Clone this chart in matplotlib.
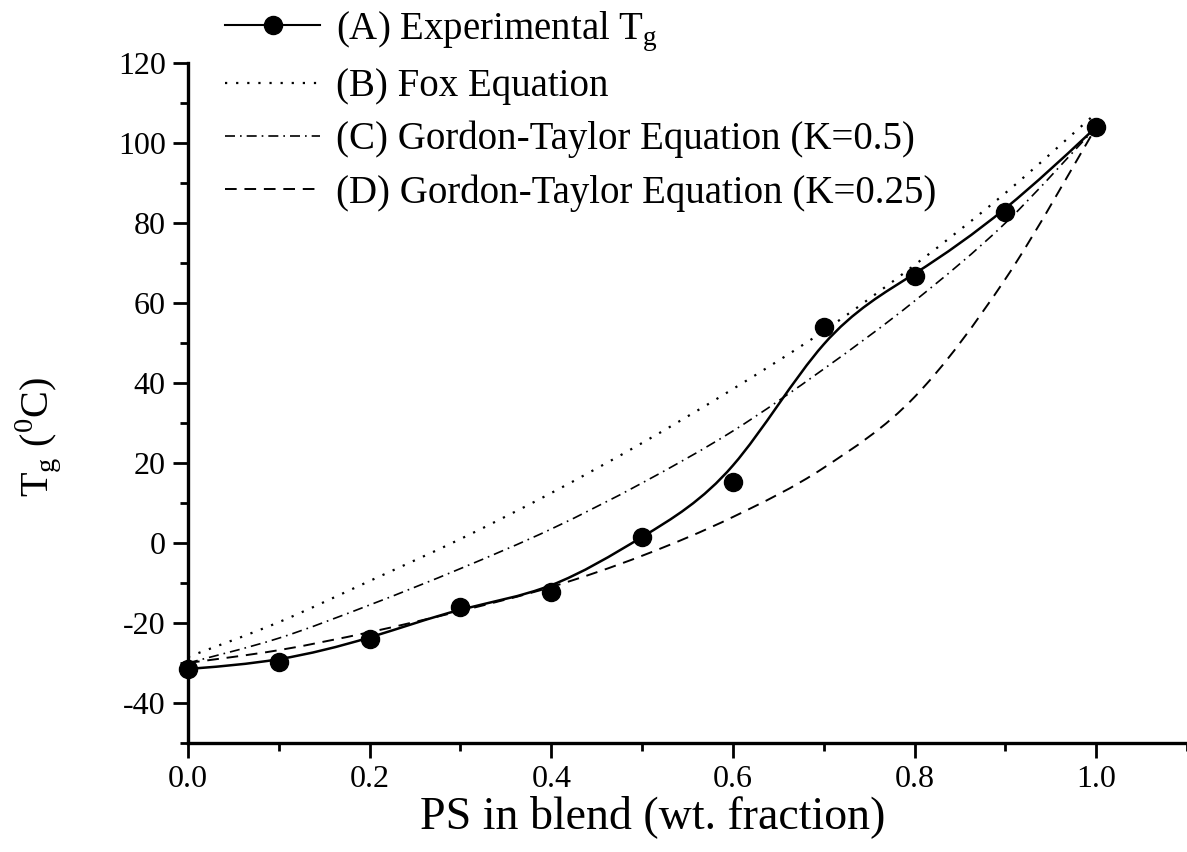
import numpy as np
import matplotlib
matplotlib.use('Agg')
import matplotlib.pyplot as plt
from matplotlib.path import Path
from matplotlib.patches import PathPatch
from matplotlib.lines import Line2D
from matplotlib.ticker import MultipleLocator

plt.rcParams['font.family'] = ['Liberation Serif', 'DejaVu Serif']
plt.rcParams['mathtext.fontset'] = 'custom'
plt.rcParams['mathtext.rm'] = 'Liberation Serif'
plt.rcParams['axes.unicode_minus'] = False

# weight fraction of PS
ps_frac = [0.0, 0.1, 0.2, 0.3, 0.4, 0.5, 0.6, 0.7, 0.8, 0.9, 1.0]

# (A) experimental Tg
tg_exp = [-31.5, -29.7, -24.0, -16.0, -12.2, 1.5, 15.2, 54.0, 66.8, 82.8, 104.0]
# (B) Fox equation
tg_fox = [-28.5, -19.8, -9.5, 1.0, 12.5, 25.0, 38.5, 53.0, 69.5, 87.5, 107.5]
# (C) Gordon-Taylor K=0.5
tg_gt05 = [-30.0, -23.8, -15.5, -6.4, 3.5, 15.0, 28.0, 43.5, 60.5, 80.0, 104.0]
# (D) Gordon-Taylor K=0.25
tg_gt025 = [-30.0, -26.8, -22.3, -17.0, -11.0, -3.2, 6.5, 18.8, 36.5, 66.0, 104.0]

labels = ['(A) Experimental T$_\\mathregular{g}$',
          '(B) Fox Equation',
          '(C) Gordon-Taylor Equation (K=0.5)',
          '(D) Gordon-Taylor Equation (K=0.25)']


def bspline_path(x, y):
    # uniform cubic B-spline, data as control points (clamped ends)
    p = np.column_stack([x, y]).astype(float)
    p = np.vstack([p[:1], p[:1], p, p[-1:], p[-1:]])
    verts = [(p[0] + 4 * p[1] + p[2]) / 6]
    codes = [Path.MOVETO]
    for i in range(len(p) - 3):
        q0, q1, q2, q3 = p[i], p[i + 1], p[i + 2], p[i + 3]
        verts += [(2 * q1 + q2) / 3, (q1 + 2 * q2) / 3, (q1 + 4 * q2 + q3) / 6]
        codes += [Path.CURVE4] * 3
    return Path(verts, codes)


def catmull_path(x, y):
    # smooth curve passing through all points
    p = np.column_stack([x, y]).astype(float)
    p = np.vstack([p[:1], p, p[-1:]])
    verts = [p[1]]
    codes = [Path.MOVETO]
    for i in range(1, len(p) - 2):
        c1 = p[i] + (p[i + 1] - p[i - 1]) / 6
        c2 = p[i + 1] - (p[i + 2] - p[i]) / 6
        verts += [c1, c2, p[i + 1]]
        codes += [Path.CURVE4] * 3
    return Path(verts, codes)


fig = plt.figure(figsize=(11.87, 8.52), dpi=100)
ax = fig.add_axes([0.1584, 0.128, 0.8416, 0.798])

dotted = (0, (1, 4))
dashdot = (0, (6, 3, 1, 3))
dashed = (0, (6, 4))

ax.add_patch(PathPatch(bspline_path(ps_frac, tg_exp), fill=False, lw=1.8, ec='black'))
ax.add_patch(PathPatch(catmull_path(ps_frac, tg_fox), fill=False, lw=1.6, ec='black', ls=dotted))
ax.add_patch(PathPatch(catmull_path(ps_frac, tg_gt05), fill=False, lw=1.2, ec='black', ls=dashdot))
ax.add_patch(PathPatch(catmull_path(ps_frac, tg_gt025), fill=False, lw=1.4, ec='black', ls=dashed))
ax.plot(ps_frac, tg_exp, 'o', color='black', ms=13, zorder=5, clip_on=False)

ax.set_xlim(0, 1.1)
ax.set_ylim(-50, 120)
ax.spines['top'].set_visible(False)
ax.spines['right'].set_visible(False)
ax.spines['left'].set_linewidth(2.4)
ax.spines['bottom'].set_linewidth(2.4)

ax.xaxis.set_minor_locator(MultipleLocator(0.1))
ax.yaxis.set_minor_locator(MultipleLocator(10))
ax.set_xticks([0.0, 0.2, 0.4, 0.6, 0.8, 1.0])
ax.set_yticks([-40, -20, 0, 20, 40, 60, 80, 100, 120])
ax.tick_params(which='major', direction='out', length=11, width=2.0, labelsize=23, pad=5)
ax.tick_params(which='minor', direction='out', length=6, width=2.0)

ax.set_xlabel('PS in blend (wt. fraction)', fontsize=33)
ax.xaxis.set_label_coords(0.465, -0.077)
ax.set_ylabel('T$_\\mathregular{g}$ ($^\\mathregular{0}$C)', fontsize=29)
ax.yaxis.set_label_coords(-0.125, 0.45)

handles = [
    Line2D([], [], color='black', lw=1.5, marker='o', ms=13),
    Line2D([], [], color='black', lw=1.6, ls=dotted),
    Line2D([], [], color='black', lw=1.2, ls=dashdot),
    Line2D([], [], color='black', lw=1.4, ls=dashed),
]
fig.legend(handles, labels, loc='upper left', bbox_to_anchor=(0.170, 1.017),
           frameon=False, fontsize=28, handlelength=2.45, handletextpad=0.4,
           labelspacing=0.4, numpoints=1, borderaxespad=0.2)

fig.savefig('out.png', dpi=100)
